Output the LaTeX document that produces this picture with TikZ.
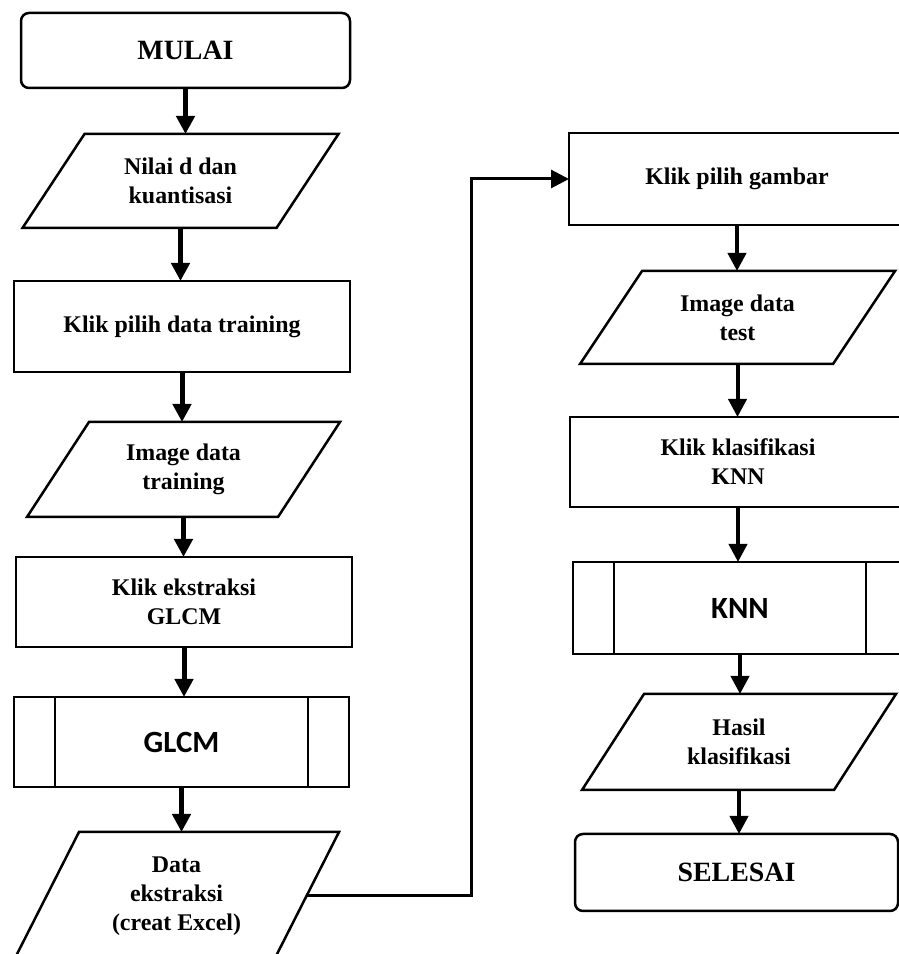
\documentclass[tikz,border=0pt]{standalone}
\usepackage{fontspec}
\setmainfont{Liberation Serif}
\newfontfamily\calfont{Carlito}
\usetikzlibrary{arrows.meta}

\tikzset{
  box/.style={draw,line width=2.5bp,inner sep=0pt,outer sep=0pt,align=center,
    font=\fontsize{24}{29}\selectfont\bfseries},
  term/.style={box,rounded corners=8bp,font=\fontsize{28}{32}\selectfont\bfseries},
  io/.style={box,draw=none},
  sub/.style={box,font=\calfont\fontsize{31}{36}\selectfont\bfseries},
  arr/.style={black,line width=5bp,->},
}
% parallelogram round an undrawn node, and the two bars of a subprocess
\newcommand{\iobox}[2][31bp]{\draw [line width=2.5bp] ([xshift=#1]#2.north west) -- ([xshift=#1]#2.north east) -- ([xshift=-#1]#2.south east) -- ([xshift=-#1]#2.south west) -- cycle;}
\newcommand{\subbars}[1]{\draw [line width=2.5bp] ([xshift=41bp]#1.north west) -- ([xshift=41bp]#1.south west) ([xshift=-41bp]#1.north east) -- ([xshift=-41bp]#1.south east);}

\begin{document}
\begin{tikzpicture}[>={Triangle[length=18bp,width=18bp]},line join=miter]
%%
\useasboundingbox (0bp,0bp) rectangle (899bp,954bp);
\clip (0bp,0bp) rectangle (899bp,954bp);
%% left column
\node (node_mulai) at (185.5bp,903.5bp) [term,minimum width=329bp,minimum height=75bp] {MULAI};
  \node (node_nilai) at (180.5bp,773bp) [io,minimum width=254bp,minimum height=94bp] {Nilai d dan\\kuantisasi};
  \node (node_klikdata) at (182bp,627.5bp) [box,minimum width=336bp,minimum height=91bp] {Klik pilih data training};
  \node (node_imgtrain) at (183.5bp,484.5bp) [io,minimum width=251bp,minimum height=95bp] {Image data\\training};
  \node (node_klikglcm) at (184bp,352bp) [box,minimum width=336bp,minimum height=90bp] {Klik ekstraksi\\GLCM};
  \node (node_glcm) at (181.5bp,212bp) [sub,minimum width=335bp,minimum height=90bp] {GLCM};
  \node (node_dataeks) at (176.5bp,58bp) [io,minimum width=260bp,minimum height=128bp] {Data\\ekstraksi\\(creat Excel)};
%% right column
\node (node_klikgambar) at (737bp,775bp) [box,minimum width=336bp,minimum height=92bp] {Klik pilih gambar};
  \node (node_imgtest) at (737.5bp,636.5bp) [io,minimum width=253bp,minimum height=93bp] {Image data\\test};
  \node (node_klikknn) at (738bp,492bp) [box,minimum width=336bp,minimum height=90bp] {Klik klasifikasi\\KNN};
  \node (node_knn) at (740bp,346bp) [sub,minimum width=334bp,minimum height=92bp] {KNN};
  \node (node_hasil) at (739bp,212bp) [io,minimum width=252bp,minimum height=96bp] {Hasil\\klasifikasi};
  \node (node_selesai) at (736.5bp,81.5bp) [term,minimum width=323bp,minimum height=77bp] {SELESAI};
\coordinate (node_bend) at (471bp,58bp);
%
\iobox{node_nilai}
\iobox{node_imgtrain}
\iobox[32.5bp]{node_dataeks}
\iobox{node_imgtest}
\iobox{node_hasil}
\subbars{node_glcm}
\subbars{node_knn}
%
\draw [arr] (node_mulai.south) -- (node_mulai.south |- node_nilai.north);
  \draw [arr] (node_nilai.south) -- (node_nilai.south |- node_klikdata.north);
  \draw [arr] (node_klikdata.south) -- (node_klikdata.south |- node_imgtrain.north);
  \draw [arr] (node_imgtrain.south) -- (node_imgtrain.south |- node_klikglcm.north);
  \draw [arr] (node_klikglcm.south) -- (node_klikglcm.south |- node_glcm.north);
  \draw [arr] (node_glcm.south) -- (node_glcm.south |- node_dataeks.north);
  \draw [black,line width=3bp,->] (node_dataeks.east) -- (node_bend) |- (node_klikgambar.west);
  \draw [arr,line width=4bp] (node_klikgambar.south) -- (node_klikgambar.south |- node_imgtest.north);
  \draw [arr,line width=4bp] (node_imgtest.south) -- (node_imgtest.south |- node_klikknn.north);
  \draw [arr,line width=4bp] (node_klikknn.south) -- (node_klikknn.south |- node_knn.north);
  \draw [arr,line width=4bp] (node_knn.south) -- (node_knn.south |- node_hasil.north);
  \draw [arr,line width=4bp] (node_hasil.south) -- (node_hasil.south |- node_selesai.north);
%
\end{tikzpicture}
\end{document}
